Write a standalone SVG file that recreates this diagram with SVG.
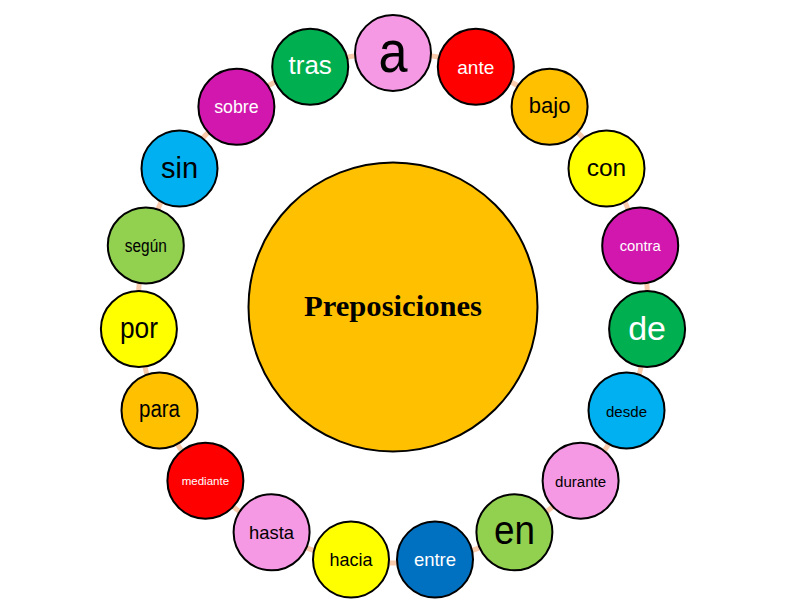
<svg xmlns="http://www.w3.org/2000/svg" width="795" height="600" viewBox="0 0 795 600">
<style>
.n{stroke:#000;stroke-width:2}
.t{font-family:"Liberation Sans",Arial,sans-serif;text-anchor:middle}
.w{fill:#fff}
.k{fill:#000}
.c{fill:none;stroke:#F8CBAD;stroke-width:5}
</style>
<rect width="795" height="600" fill="#fff"/>
<g id="connectors">
<path class="c" d="M393 53 A255 255 0 0 1 475.8 66.8"/>
<path class="c" d="M475.8 66.8 A255 255 0 0 1 549.6 106.8"/>
<path class="c" d="M549.6 106.8 A255 255 0 0 1 606.5 168.5"/>
<path class="c" d="M606.5 168.5 A255 255 0 0 1 640.2 245.4"/>
<path class="c" d="M640.2 245.4 A255 255 0 0 1 647.1 329.1"/>
<path class="c" d="M647.1 329.1 A255 255 0 0 1 626.5 410.4"/>
<path class="c" d="M626.5 410.4 A255 255 0 0 1 580.6 480.7"/>
<path class="c" d="M580.6 480.7 A255 255 0 0 1 514.4 532.3"/>
<path class="c" d="M514.4 532.3 A255 255 0 0 1 435 559.5"/>
<path class="c" d="M435 559.5 A255 255 0 0 1 351 559.5"/>
<path class="c" d="M351 559.5 A255 255 0 0 1 271.6 532.3"/>
<path class="c" d="M271.6 532.3 A255 255 0 0 1 205.4 480.7"/>
<path class="c" d="M205.4 480.7 A255 255 0 0 1 159.5 410.4"/>
<path class="c" d="M159.5 410.4 A255 255 0 0 1 138.9 329.1"/>
<path class="c" d="M138.9 329.1 A255 255 0 0 1 145.8 245.4"/>
<path class="c" d="M145.8 245.4 A255 255 0 0 1 179.5 168.5"/>
<path class="c" d="M179.5 168.5 A255 255 0 0 1 236.4 106.8"/>
<path class="c" d="M236.4 106.8 A255 255 0 0 1 310.2 66.8"/>
<path class="c" d="M310.2 66.8 A255 255 0 0 1 393 53"/>
</g>
<g id="center">
<circle class="n" cx="393" cy="307" r="144.5" fill="#FFC000"/>
<text x="393" y="316" font-family="'Liberation Serif','Times New Roman',serif" font-weight="bold" font-size="29" text-anchor="middle" textLength="178" lengthAdjust="spacingAndGlyphs" fill="#000">Preposiciones</text>
</g>
<g id="n-a"><circle class="n" cx="393" cy="53" r="38" fill="#F599E4"/><text class="t k" x="393" y="72" font-size="60" textLength="29" lengthAdjust="spacingAndGlyphs">a</text></g>
<g id="n-ante"><circle class="n" cx="475.8" cy="66.8" r="38" fill="#FF0000"/><text class="t w" x="475.8" y="74" font-size="19">ante</text></g>
<g id="n-bajo"><circle class="n" cx="549.6" cy="106.8" r="38" fill="#FFC000"/><text class="t k" x="549.6" y="113" font-size="22">bajo</text></g>
<g id="n-con"><circle class="n" cx="606.5" cy="168.5" r="38" fill="#FFFF00"/><text class="t k" x="606.5" y="176" font-size="24.5">con</text></g>
<g id="n-contra"><circle class="n" cx="640.2" cy="245.4" r="38" fill="#D217AE"/><text class="t w" x="640.2" y="251" font-size="14.8">contra</text></g>
<g id="n-de"><circle class="n" cx="647.1" cy="329.1" r="38" fill="#00B050"/><text class="t w" x="647.1" y="339.5" font-size="34">de</text></g>
<g id="n-desde"><circle class="n" cx="626.5" cy="410.4" r="38" fill="#00B0F0"/><text class="t k" x="626.5" y="416.5" font-size="15.5" textLength="41" lengthAdjust="spacingAndGlyphs">desde</text></g>
<g id="n-durante"><circle class="n" cx="580.6" cy="480.7" r="38" fill="#F599E4"/><text class="t k" x="580.6" y="486.5" font-size="15.5" textLength="51" lengthAdjust="spacingAndGlyphs">durante</text></g>
<g id="n-en"><circle class="n" cx="514.4" cy="532.3" r="38" fill="#92D050"/><text class="t k" x="514.4" y="544" font-size="40" textLength="41" lengthAdjust="spacingAndGlyphs">en</text></g>
<g id="n-entre"><circle class="n" cx="435" cy="559.5" r="38" fill="#0070C0"/><text class="t w" x="435" y="566" font-size="18.5">entre</text></g>
<g id="n-hacia"><circle class="n" cx="351" cy="559.5" r="38" fill="#FFFF00"/><text class="t k" x="351" y="566" font-size="18.5" textLength="43" lengthAdjust="spacingAndGlyphs">hacia</text></g>
<g id="n-hasta"><circle class="n" cx="271.6" cy="532.3" r="38" fill="#F599E4"/><text class="t k" x="271.6" y="539" font-size="18.5" textLength="45" lengthAdjust="spacingAndGlyphs">hasta</text></g>
<g id="n-mediante"><circle class="n" cx="205.4" cy="480.7" r="38" fill="#FF0000"/><text class="t w" x="205.4" y="485" font-size="11.5">mediante</text></g>
<g id="n-para"><circle class="n" cx="159.5" cy="410.4" r="38" fill="#FFC000"/><text class="t k" x="159.5" y="416.5" font-size="23" textLength="41" lengthAdjust="spacingAndGlyphs">para</text></g>
<g id="n-por"><circle class="n" cx="138.9" cy="329.1" r="38" fill="#FFFF00"/><text class="t k" x="138.9" y="337.5" font-size="30" textLength="38" lengthAdjust="spacingAndGlyphs">por</text></g>
<g id="n-segun"><circle class="n" cx="145.8" cy="245.4" r="38" fill="#92D050"/><text class="t k" x="145.8" y="251.5" font-size="18" textLength="42" lengthAdjust="spacingAndGlyphs">según</text></g>
<g id="n-sin"><circle class="n" cx="179.5" cy="168.5" r="38" fill="#00B0F0"/><text class="t k" x="179.5" y="178" font-size="29">sin</text></g>
<g id="n-sobre"><circle class="n" cx="236.4" cy="106.8" r="38" fill="#D217AE"/><text class="t w" x="236.4" y="113.3" font-size="17.8">sobre</text></g>
<g id="n-tras"><circle class="n" cx="310.2" cy="66.8" r="38" fill="#00B050"/><text class="t w" x="310.2" y="74.3" font-size="26">tras</text></g>
</svg>
